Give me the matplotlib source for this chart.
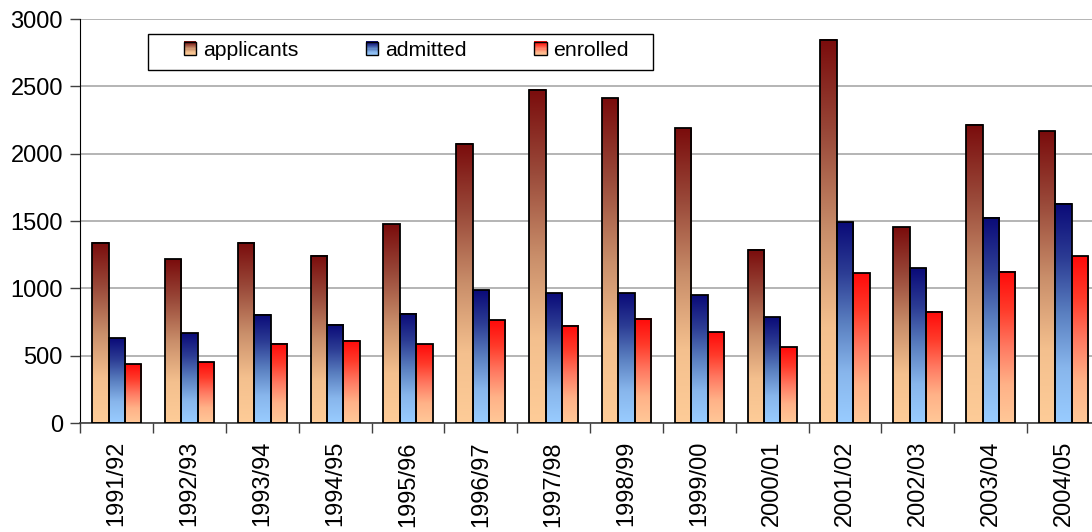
#!/usr/bin/env python3
"""Applicants / admitted / enrolled per academic year, gradient-filled grouped bars."""

import matplotlib

matplotlib.use("Agg")

import matplotlib.pyplot as plt
import numpy as np
from matplotlib.colors import LinearSegmentedColormap
from matplotlib.legend_handler import HandlerBase
from matplotlib.patches import Rectangle

years = [
    "1991/92", "1992/93", "1993/94", "1994/95", "1995/96", "1996/97", "1997/98",
    "1998/99", "1999/00", "2000/01", "2001/02", "2002/03", "2003/04", "2004/05",
]
applicants = [1340, 1215, 1340, 1242, 1475, 2075, 2475, 2410, 2190, 1288, 2845, 1452, 2215, 2165]
admitted = [628, 665, 802, 728, 812, 985, 962, 962, 948, 785, 1490, 1150, 1525, 1628]
enrolled = [438, 450, 588, 612, 585, 762, 722, 775, 675, 562, 1112, 825, 1125, 1238]

series_names = ["applicants", "admitted", "enrolled"]

# gradient stops, bottom of bar first
gradients = {
    "applicants": ["#fecc98", "#f4c08e", "#c98e6a", "#9a4a3a", "#7a0c0c"],
    "admitted": ["#99ccff", "#88b6ec", "#5a7fc0", "#2c3c94", "#0a0a78"],
    "enrolled": ["#ffc898", "#ffb288", "#ff7a62", "#ff3a2a", "#ff0a0a"],
}
cmaps = {k: LinearSegmentedColormap.from_list(k, v) for k, v in gradients.items()}

plt.rcParams["font.family"] = ["Liberation Sans", "DejaVu Sans"]

W, H = 1092, 532
fig = plt.figure(figsize=(W / 100, H / 100), dpi=100)
ax = fig.add_axes([80.3 / W, 109 / H, (1100 - 80.3) / W, 404 / H])

x = np.arange(len(years))
bw = 0.225
grad = np.linspace(0, 1, 256).reshape(-1, 1)

for i, (name, vals) in enumerate(zip(series_names, [applicants, admitted, enrolled])):
    bars = ax.bar(x + (i - 1) * bw, vals, bw, facecolor="none",
                  edgecolor="black", linewidth=1.3, zorder=3)
    for rect in bars:
        x0, y0 = rect.get_x(), rect.get_y()
        ax.imshow(grad, cmap=cmaps[name], origin="lower", aspect="auto",
                  extent=(x0, x0 + rect.get_width(), y0, y0 + rect.get_height()),
                  interpolation="bilinear", zorder=2)

ax.set_xlim(-0.5, len(years) - 0.5)
ax.set_ylim(0, 3000)
ax.set_yticks(np.arange(0, 3001, 500))
ax.yaxis.grid(True, color="#a8a8a8", linewidth=1.2, zorder=0)
ax.set_axisbelow(True)

# tick marks on category boundaries, labels in the middle
ax.set_xticks(np.arange(-0.5, len(years), 1.0))
ax.set_xticklabels([])
ax.set_xticks(x, minor=True)
ax.set_xticklabels(years, minor=True, rotation=90, fontsize=17)
ax.tick_params(axis="x", which="minor", length=0, pad=13)
ax.tick_params(axis="x", which="major", length=7, width=1, color="#404040")
ax.tick_params(axis="y", length=7, width=1, pad=5.5, labelsize=17, color="#404040")

for side in ("top", "right"):
    ax.spines[side].set_visible(False)
ax.spines["left"].set_color("black")
ax.spines["bottom"].set_color("#404040")
ax.spines["bottom"].set_linewidth(1.2)


class GradientHandler(HandlerBase):
    def __init__(self, cmap):
        super().__init__()
        self.cmap = cmap

    def create_artists(self, legend, orig_handle, xdescent, ydescent,
                       width, height, fontsize, trans):
        n = 12
        artists = []
        for k in range(n):
            artists.append(Rectangle((-xdescent, -ydescent + k * height / n),
                                     width, height / n + 0.3,
                                     facecolor=self.cmap((k + 0.5) / n),
                                     edgecolor="none", transform=trans))
        artists.append(Rectangle((-xdescent, -ydescent), width, height,
                                 facecolor="none", edgecolor="black",
                                 linewidth=1, transform=trans))
        return artists


handles = [Rectangle((0, 0), 1, 1) for _ in series_names]
leg = fig.legend(handles, series_names, loc="upper left",
                 bbox_to_anchor=(184 / W, 1 - 41 / H), ncol=3, frameon=False,
                 fontsize=15.3, handlelength=0.58, handleheight=0.58,
                 handletextpad=0.3, columnspacing=3.2, borderpad=0,
                 borderaxespad=0,
                 handler_map={h: GradientHandler(cmaps[n]) for h, n in zip(handles, series_names)})

fig.patches.append(Rectangle((148 / W, 1 - 70 / H), (653 - 148) / W, 36 / H,
                             transform=fig.transFigure, facecolor="white",
                             edgecolor="black", linewidth=1, zorder=0))

fig.savefig("out.png", dpi=100)
